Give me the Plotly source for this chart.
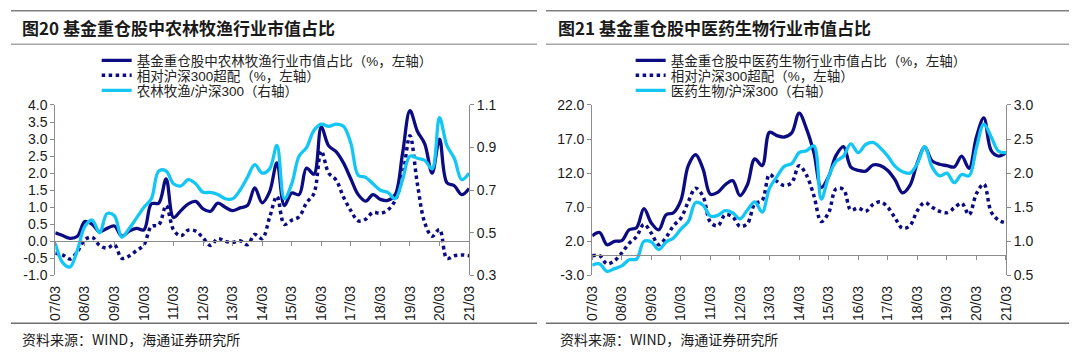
import plotly.graph_objects as go

# ---------------- data ----------------
quarters = [f"{y:02d}/{m:02d}" for y in range(7, 22) for m in (3, 6, 9, 12)][:57]
year_ticks = quarters[::4]

# Fig 20: agriculture
agri_share = [0.25, 0.17, 0.09, 0.15, 0.58, 0.50, 0.28, 0.38, 0.45, 0.15,
              0.30, 0.38, 0.34, 1.10, 1.12, 1.83, 0.70, 0.90, 1.10, 1.17,
              0.95, 0.88, 1.12, 1.00, 0.90, 0.98, 1.05, 1.57, 1.13, 1.45,
              2.30, 1.05, 1.42, 1.37, 2.15, 1.97, 3.35, 2.80, 2.63, 2.30,
              1.83, 1.37, 1.18, 1.37, 1.23, 1.20, 1.37, 2.58, 3.83, 3.23,
              2.86, 2.00, 3.00, 1.72, 1.63, 1.37, 1.55]
agri_over = [-0.35, -0.40, -0.52, -0.30, 0.05, 0.12, -0.12, -0.20, -0.10, -0.50,
             -0.43, -0.27, -0.10, 0.44, 0.48, 1.05, 0.34, 0.16, 0.33, 0.30,
             0.10, -0.12, 0.08, 0.00, -0.03, 0.02, -0.10, 0.20, 0.08, 0.70,
             1.32, 0.50, 0.62, 0.72, 1.13, 1.40, 2.65, 2.00, 1.80, 1.30,
             0.90, 0.60, 0.65, 0.85, 0.82, 0.92, 1.20, 1.90, 3.10, 1.69,
             0.55, 0.15, 0.35, -0.50, -0.42, -0.40, -0.42]
agri_rel = [0.45, 0.36, 0.34, 0.42, 0.53, 0.56, 0.50, 0.59, 0.58, 0.48,
            0.52, 0.57, 0.62, 0.66, 0.79, 0.79, 0.73, 0.72, 0.75, 0.73,
            0.69, 0.69, 0.68, 0.66, 0.66, 0.70, 0.76, 0.82, 0.78, 0.80,
            0.91, 0.66, 0.73, 0.86, 0.90, 0.98, 1.01, 1.00, 1.01, 1.00,
            0.92, 0.77, 0.76, 0.73, 0.70, 0.69, 0.66, 0.75, 0.86, 0.85,
            0.84, 0.80, 1.04, 0.91, 0.85, 0.75, 0.78]

# Fig 21: pharma
med_share = [2.8, 3.3, 1.5, 2.0, 2.1, 3.7, 4.0, 6.8, 4.7, 3.7,
             5.9, 6.2, 8.0, 13.1, 14.7, 12.6, 8.9, 9.2, 10.3, 10.9,
             8.7, 10.3, 14.1, 13.1, 18.0, 17.5, 17.3, 17.9, 20.8, 18.5,
             15.0, 9.9, 11.5, 14.6, 15.9, 12.9, 12.4, 12.3, 13.2, 13.1,
             12.4, 11.0, 9.1, 10.2, 13.5, 15.8, 13.8, 13.3, 13.1, 12.9,
             14.5, 12.7, 17.3, 20.1, 15.3, 14.5, 15.0]
med_over = [-0.1, -0.1, -1.3, -0.85, 0.3, 1.7, 2.7, 4.5, 3.2, 1.5,
            2.6, 4.3, 5.4, 7.8, 9.8, 8.6, 4.8, 4.3, 5.9, 5.6,
            4.2, 4.6, 7.5, 8.0, 11.8, 10.8, 10.2, 10.6, 13.1, 11.7,
            8.7, 4.9, 6.2, 9.7, 9.6, 6.6, 6.9, 6.4, 7.4, 7.8,
            7.0, 5.4, 3.9, 4.3, 6.5, 7.7, 7.0, 6.4, 6.2, 6.9,
            7.6, 5.9, 9.0, 10.4, 6.3, 5.1, 4.7]
med_rel = [0.65, 0.67, 0.56, 0.60, 0.64, 0.73, 0.74, 1.00, 0.99, 0.88,
           0.99, 1.05, 1.18, 1.29, 1.57, 1.53, 1.37, 1.38, 1.45, 1.42,
           1.33, 1.46, 1.58, 1.43, 1.78, 1.95, 2.10, 2.14, 2.30, 2.33,
           2.40, 1.62, 1.95, 2.17, 2.25, 2.43, 2.30, 2.42, 2.45, 2.37,
           2.25, 2.10, 2.02, 2.00, 2.14, 2.39, 2.09, 1.96, 2.00, 1.86,
           1.98, 1.96, 2.37, 2.72, 2.53, 2.32, 2.30]

titles = ["图20 基金重仓股中农林牧渔行业市值占比", "图21 基金重仓股中医药生物行业市值占比"]
names_left = ["基金重仓股中农林牧渔行业市值占比（%，左轴）", "相对沪深300超配（%，左轴）", "农林牧渔/沪深300（右轴）"]
names_right = ["基金重仓股中医药生物行业市值占比（%，左轴）", "相对沪深300超配（%，左轴）", "医药生物/沪深300（右轴）"]
source_text = "资料来源：WIND，海通证券研究所"

left_ticks = [-1.0, -0.5, 0.0, 0.5, 1.0, 1.5, 2.0, 2.5, 3.0, 3.5, 4.0]
left_ticktext = ["-1.0", "-0.5", "0.0", "0.5", "1.0", "1.5", "2.0", "2.5", "3.0", "3.5", "4.0"]
left_r_ticks = [0.3, 0.5, 0.7, 0.9, 1.1]
left_r_ticktext = ["0.3", "0.5", "0.7", "0.9", "1.1"]
right_ticks = [-3.0, 2.0, 7.0, 12.0, 17.0, 22.0]
right_ticktext = ["-3.0", "2.0", "7.0", "12.0", "17.0", "22.0"]
right_r_ticks = [0.5, 1.0, 1.5, 2.0, 2.5, 3.0]
right_r_ticktext = ["0.5", "1.0", "1.5", "2.0", "2.5", "3.0"]

# ---------------- style ----------------
W, H = 1080, 357
NAVY = "#0B0B82"
CYAN = "#14C6F4"
AX = "#8c8c8c"
CJK = "Noto Sans CJK SC"
NUM = "Liberation Sans, Arial, sans-serif"

def px_x(p):
    return p / W

def px_y(p):
    return 1 - p / H

ydom = [px_y(280), px_y(101.5)]
xdom_l = [px_x(48), px_x(468)]
xdom_r = [px_x(593), px_x(1013)]
xrange_ = [0, len(quarters) - 1]
tick_idx = [quarters.index(t) for t in year_ticks]

def zero_pos(rng):
    return ydom[0] + (ydom[1] - ydom[0]) * (0 - rng[0]) / (rng[1] - rng[0])

lrange, lrrange = [-1, 4], [0.3, 1.1]
rrange, rrrange = [-3, 22], [0.5, 3.0]

legend_rows = [55, 70.7, 86.5]

fig = go.Figure()

def add_panel(share, over, rel, names, xa, ya, yb, legs):
    fig.add_trace(go.Scatter(x=quarters, y=share, name=names[0], mode="lines",
                             line=dict(color=NAVY, width=3.3, shape="spline", smoothing=1),
                             xaxis=xa, yaxis=ya, legend=legs[0]))
    fig.add_trace(go.Scatter(x=quarters, y=over, name=names[1], mode="lines",
                             line=dict(color=NAVY, width=3.5, dash="dot", shape="spline", smoothing=1),
                             xaxis=xa, yaxis=ya, legend=legs[1]))
    fig.add_trace(go.Scatter(x=quarters, y=rel, name=names[2], mode="lines",
                             line=dict(color=CYAN, width=3.3, shape="spline", smoothing=1),
                             xaxis=xa, yaxis=yb, legend=legs[2]))

add_panel(agri_share, agri_over, agri_rel, names_left, "x", "y", "y2",
          ["legend", "legend2", "legend3"])
add_panel(med_share, med_over, med_rel, names_right, "x2", "y3", "y4",
          ["legend4", "legend5", "legend6"])

# dummy traces so the zero-line tick axes get subplots
fig.add_trace(go.Scatter(x=[None], y=[None], xaxis="x3", yaxis="y", showlegend=False, hoverinfo="skip"))
fig.add_trace(go.Scatter(x=[None], y=[None], xaxis="x4", yaxis="y3", showlegend=False, hoverinfo="skip"))

tickfont = dict(family=NUM, size=14, color="#1a1a1a")

def xlab_axis(dom, anchor):
    return dict(domain=dom, anchor=anchor, type="category", range=xrange_,
                tickvals=year_ticks, ticktext=year_ticks, tickangle=-90,
                showline=False, showgrid=False, zeroline=False,
                ticks="outside", ticklen=4, tickcolor="rgba(0,0,0,0)",
                tickfont=dict(family=NUM, size=14, color="#1a1a1a"))

def xzero_axis(base, pos):
    return dict(overlaying=base, anchor="free", position=pos, type="linear",
                range=xrange_, tickvals=tick_idx, showticklabels=False,
                ticks="outside", ticklen=4, tickcolor=AX, tickwidth=1,
                showline=True, linecolor=AX, linewidth=1,
                showgrid=False, zeroline=False)

def yaxis_(rng, tv, tt, side="left", overlay=None, anchor="x"):
    d = dict(domain=ydom, range=rng, tickvals=tv, ticktext=tt, side=side,
             anchor=anchor, showline=True, linecolor=AX, linewidth=1,
             ticks="outside", ticklen=4, tickcolor=AX, showgrid=False,
             zeroline=False, tickfont=tickfont)
    if overlay:
        d["overlaying"] = overlay
    return d

legfont = dict(family="Liberation Sans, " + CJK, size=13.5, color="#222222")

def leg(xp, yp):
    return dict(x=px_x(xp), y=px_y(yp), xanchor="left", yanchor="middle",
                bgcolor="rgba(0,0,0,0)", font=legfont, itemwidth=30)

shapes = []
for x0, x1 in [(3, 537), (546, 1077)]:
    for yy, col in [(3, "#7f7f7f"), (38, "#a6a6a6"), (330, "#6f6f6f")]:
        shapes.append(dict(type="line", xref="paper", yref="paper",
                           x0=px_x(x0), x1=px_x(x1), y0=px_y(yy), y1=px_y(yy),
                           line=dict(color=col, width=1.5)))

annotations = []
for t, xp in zip(titles, [12, 556]):
    annotations.append(dict(text=f"<b>{t}</b>", xref="paper", yref="paper",
                            x=px_x(xp), y=px_y(20), xanchor="left", yanchor="middle",
                            showarrow=False, font=dict(family=CJK, size=17, color="#1a1a1a")))
for xp in [12, 558]:
    annotations.append(dict(text=source_text, xref="paper", yref="paper",
                            x=px_x(xp), y=px_y(347), xanchor="left", yanchor="middle",
                            showarrow=False, font=dict(family=CJK, size=14, color="#1a1a1a")))

layout_legends = {}
for i, (xp, yp) in enumerate([(90, r) for r in legend_rows] + [(632, r) for r in legend_rows]):
    key = "legend" if i == 0 else f"legend{i + 1}"
    layout_legends[key] = leg(xp, yp)

fig.update_layout(
    width=W, height=H, margin=dict(l=0, r=0, t=0, b=0),
    paper_bgcolor="white", plot_bgcolor="white",
    showlegend=True,
    xaxis=xlab_axis(xdom_l, "y"),
    xaxis2=xlab_axis(xdom_r, "y3"),
    xaxis3=xzero_axis("x", zero_pos(lrange)),
    xaxis4=xzero_axis("x2", zero_pos(rrange)),
    yaxis=yaxis_(lrange, left_ticks, left_ticktext, anchor="x"),
    yaxis2=yaxis_(lrrange, left_r_ticks, left_r_ticktext, side="right", overlay="y", anchor="x"),
    yaxis3=yaxis_(rrange, right_ticks, right_ticktext, anchor="x2"),
    yaxis4=yaxis_(rrrange, right_r_ticks, right_r_ticktext, side="right", overlay="y3", anchor="x2"),
    shapes=shapes, annotations=annotations,
    **layout_legends,
)

fig.write_html("out.html", config={"displayModeBar": False},
               post_script="document.body.style.margin='0';document.body.style.padding='0';")
